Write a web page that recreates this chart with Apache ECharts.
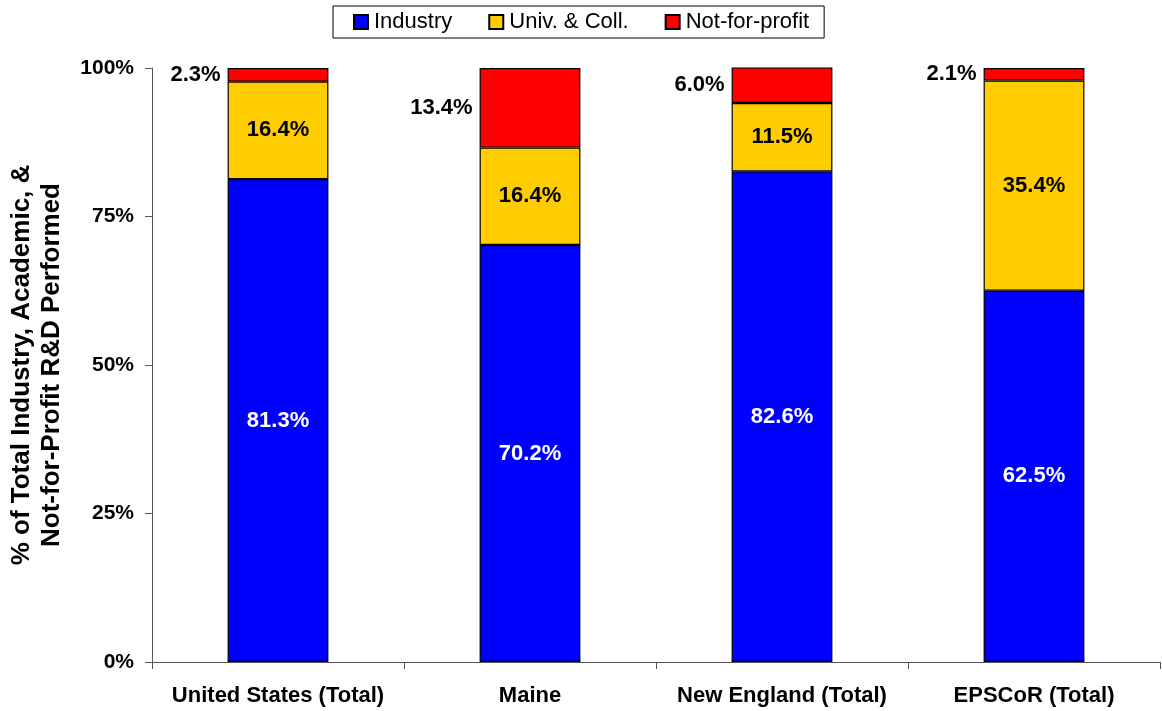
<!DOCTYPE html>
<html><head><meta charset="utf-8">
<script src="https://cdn.jsdelivr.net/npm/echarts@6/dist/echarts.min.js"></script>
<style>html,body{margin:0;padding:0;background:#fff}#c{width:1162px;height:711px}</style>
</head><body><div id="c"></div>
<script>
const categories = ['United States (Total)', 'Maine', 'New England (Total)', 'EPSCoR (Total)'];
const industry = [81.3, 70.2, 82.6, 62.5];
const univColl = [16.4, 16.4, 11.5, 35.4];
const notForProfit = [2.3, 13.4, 6.0, 2.1];
const yTicks = [0, 25, 50, 75, 100];

const F = '"Liberation Sans", Arial, sans-serif';
const chart = echarts.init(document.getElementById('c'));
const fmt = p => p.value.toFixed(1) + '%';
const common = {type: 'bar', stack: 'a', barWidth: '40%', itemStyle: {borderColor: '#000', borderWidth: 1.2}};
chart.setOption({
  animation: false,
  textStyle: {fontFamily: F},
  legend: {
    top: 6, left: 333, icon: 'rect', itemWidth: 14, itemHeight: 14, itemGap: 36,
    padding: [5, 15, 5, 20],
    borderColor: '#000', borderWidth: 1,
    textStyle: {fontFamily: F, fontSize: 22, color: '#000', padding: [0, 0, 0, 1]},
    data: ['Industry', 'Univ. & Coll.', 'Not-for-profit']
  },
  grid: {left: 152, right: 2, top: 68, bottom: 49, containLabel: false, outerBoundsMode: 'none'},
  xAxis: {
    type: 'category', data: categories,
    axisLine: {lineStyle: {color: '#555', width: 1}},
    axisTick: {show: true, length: 7, alignWithLabel: false, lineStyle: {color: '#555'}},
    axisLabel: {interval: 0, fontFamily: F, fontWeight: 'bold', fontSize: 22, color: '#000', margin: 23}
  },
  yAxis: {
    type: 'value', min: yTicks[0], max: yTicks[yTicks.length - 1], interval: 25,
    name: '% of Total Industry, Academic, &\nNot-for-Profit R&D Performed',
    nameLocation: 'middle', nameGap: 85, nameRotate: 90,
    nameTextStyle: {fontFamily: F, fontWeight: 'bold', fontSize: 26, color: '#000', lineHeight: 30},
    axisLine: {show: true, lineStyle: {color: '#555', width: 1}},
    axisTick: {show: true, length: 7, lineStyle: {color: '#555'}},
    splitLine: {show: false},
    axisLabel: {formatter: '{value}%', fontFamily: F, fontWeight: 'bold', fontSize: 21, color: '#000', margin: 18}
  },
  series: [
    Object.assign({}, common, {name: 'Industry', data: industry, itemStyle: Object.assign({}, common.itemStyle, {color: '#0000ff'}),
      label: {show: true, position: 'inside', formatter: fmt, color: '#fff', fontFamily: F, fontWeight: 'bold', fontSize: 22}}),
    Object.assign({}, common, {name: 'Univ. & Coll.', data: univColl, itemStyle: Object.assign({}, common.itemStyle, {color: '#ffcc00'}),
      label: {show: true, position: 'inside', formatter: fmt, color: '#000', fontFamily: F, fontWeight: 'bold', fontSize: 22}}),
    Object.assign({}, common, {name: 'Not-for-profit', data: notForProfit, itemStyle: Object.assign({}, common.itemStyle, {color: '#ff0000'}),
      label: {show: true, position: 'left', distance: 7, formatter: fmt, color: '#000', fontFamily: F, fontWeight: 'bold', fontSize: 22}})
  ]
});
</script></body></html>
